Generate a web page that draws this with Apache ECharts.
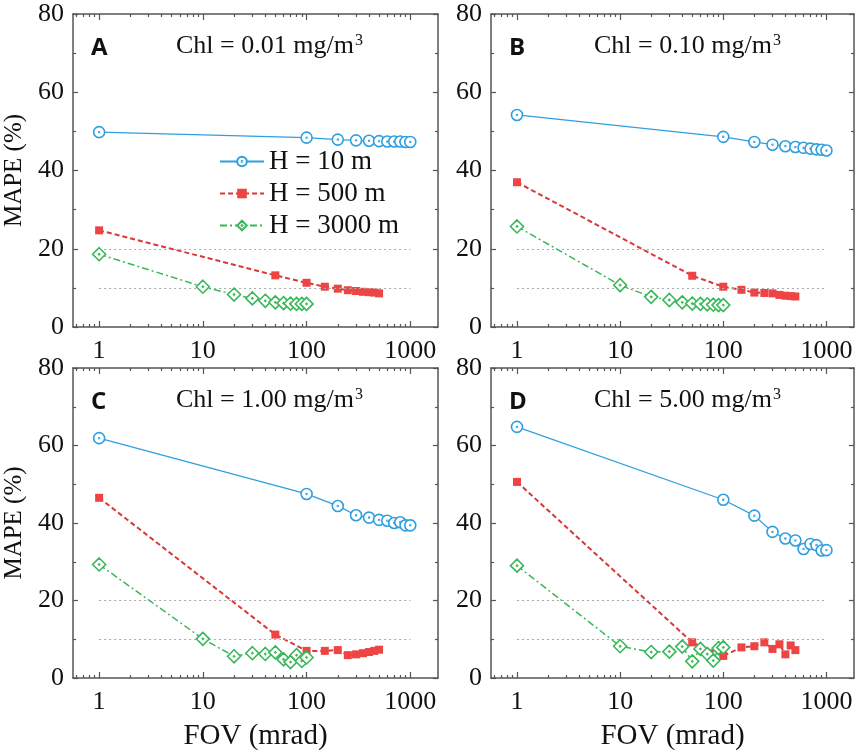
<!DOCTYPE html>
<html>
<head>
<meta charset="utf-8">
<script src="https://cdn.jsdelivr.net/npm/echarts@6/dist/echarts.min.js"></script>
<style>
  html, body { margin: 0; padding: 0; background: #fff; }
  #main { width: 860px; height: 752px; }
</style>
</head>
<body>
<div id="main"></div>
<script>
// FOV (mrad) sampled for each platform height
const fovH10 = [1, 100, 200, 300, 400, 500, 600, 700, 800, 900, 1000]
const fovH500 = [1, 50, 100, 150, 200, 250, 300, 350, 400, 450, 500]
const fovH3000 = [1, 10, 20, 30, 40, 50, 60, 70, 80, 90, 100]

// MAPE (%) per panel
const mapeA_H10 = [49.8, 48.4, 47.9, 47.7, 47.6, 47.5, 47.4, 47.4, 47.4, 47.3, 47.3]
const mapeA_H500 = [24.7, 13.2, 11.3, 10.3, 9.8, 9.4, 9.2, 9.0, 8.9, 8.8, 8.6]
const mapeA_H3000 = [18.6, 10.3, 8.3, 7.3, 6.7, 6.3, 6.1, 6.0, 5.9, 5.9, 5.9]

const mapeB_H10 = [54.2, 48.6, 47.3, 46.6, 46.2, 46.0, 45.8, 45.6, 45.4, 45.3, 45.1]
const mapeB_H500 = [37.0, 13.1, 10.3, 9.5, 8.8, 8.7, 8.6, 8.2, 8.0, 7.9, 7.8]
const mapeB_H3000 = [25.7, 10.7, 7.7, 6.9, 6.3, 6.0, 5.9, 5.8, 5.7, 5.6, 5.6]

const mapeC_H10 = [61.9, 47.5, 44.4, 42.0, 41.4, 40.8, 40.6, 40.0, 40.2, 39.4, 39.4]
const mapeC_H500 = [46.5, 11.2, 7.0, 7.0, 7.2, 5.9, 6.1, 6.4, 6.7, 7.0, 7.3]
const mapeC_H3000 = [29.3, 10.1, 5.6, 6.4, 6.2, 6.6, 4.8, 4.1, 5.9, 4.4, 5.3]

const mapeD_H10 = [64.8, 46.0, 41.9, 37.7, 36.0, 35.5, 33.3, 34.6, 34.3, 32.9, 33.0]
const mapeD_H500 = [50.6, 9.2, 5.7, 7.9, 8.2, 9.2, 7.5, 8.7, 6.1, 8.4, 7.2]
const mapeD_H3000 = [29.0, 8.2, 6.7, 6.8, 8.1, 4.3, 7.5, 6.2, 4.5, 7.7, 7.9]

const panelLetters = ['A', 'B', 'C', 'D']
const chlLabels = ['0.01', '0.10', '1.00', '5.00']
const seriesNames = ['H = 10 m', 'H = 500 m', 'H = 3000 m']
const xTickLabels = [1, 10, 100, 1000]
const refLevels = [10, 20]

const panels = [
  [mapeA_H10, mapeA_H500, mapeA_H3000],
  [mapeB_H10, mapeB_H500, mapeB_H3000],
  [mapeC_H10, mapeC_H500, mapeC_H3000],
  [mapeD_H10, mapeD_H500, mapeD_H3000]
]
const fovs = [fovH10, fovH500, fovH3000]

const SERIF = '"Liberation Serif", "Times New Roman", serif'
const AXIS = '#555'
const X_MIN = 0.56, X_MAX = 1850

// minor log ticks 2..9 of every decade
const minorTicks = []
;[0.1, 1, 10, 100, 1000].forEach(d => {
  for (let k = 2; k <= 9; k++) {
    const v = +(k * d).toPrecision(3)
    if (v > X_MIN && v < X_MAX && !xTickLabels.includes(v)) minorTicks.push(v)
  }
})

const grids = [
  {left: 73, top: 14, width: 365, height: 313},
  {left: 491, top: 14, width: 363, height: 313},
  {left: 73, top: 368, width: 365, height: 312},
  {left: 491, top: 368, width: 363, height: 312}
]

// ring with centre dot
const circleDot = 'path://M10 0A10 10 0 1 1 10 20A10 10 0 1 1 10 0ZM10 9.2A0.8 0.8 0 1 1 10 10.8A0.8 0.8 0 1 1 10 9.2Z'
const diamondDot = 'path://M10 0L20 10L10 20L0 10ZM10 9.2L10.8 10L10 10.8L9.2 10Z'

const styles = [
  {
    color: '#2f9fe0', symbol: circleDot, symbolSize: 11,
    itemStyle: {color: '#fff', borderColor: '#2f9fe0', borderWidth: 1.6},
    lineStyle: {color: '#2f9fe0', width: 1.3, type: 'solid'}
  },
  {
    color: '#ee4444', symbol: 'rect', symbolSize: 8,
    itemStyle: {color: '#ee4444'},
    lineStyle: {color: '#d93838', width: 2, type: [5, 3]}
  },
  {
    color: '#38b858', symbol: diamondDot, symbolSize: 13,
    itemStyle: {color: '#fff', borderColor: '#38b858', borderWidth: 1.6},
    lineStyle: {color: '#38b858', width: 1.5, type: [7, 3, 2, 3]}
  }
]

const xAxes = [], yAxes = [], series = [], graphics = []

grids.forEach((g, p) => {
  const bottomRow = p >= 2
  const mk = (position, ticks, len, main) => ({
    type: 'log', logBase: 10, gridIndex: p, position: position,
    min: X_MIN, max: X_MAX,
    axisLine: {show: main, lineStyle: {color: AXIS, width: 1.5}},
    axisTick: {show: true, inside: true, length: len, customValues: ticks, lineStyle: {color: AXIS, width: 1.2}},
    axisLabel: (position === 'bottom' && main) ? {
      show: true, customValues: xTickLabels, margin: 11,
      formatter: v => String(Math.round(v)),
      fontFamily: SERIF, fontSize: 26, color: '#111'
    } : {show: false},
    splitLine: {show: false},
    name: (position === 'bottom' && main && bottomRow) ? 'FOV (mrad)' : '',
    nameLocation: 'middle', nameGap: 44,
    nameTextStyle: {fontFamily: SERIF, fontSize: 29, color: '#111'}
  })
  xAxes.push(mk('bottom', xTickLabels, 6, true))
  xAxes.push(mk('bottom', minorTicks, 3, false))
  xAxes.push(mk('top', xTickLabels, 6, true))
  xAxes.push(mk('top', minorTicks, 3, false))

  const my = (position) => ({
    type: 'value', gridIndex: p, position: position,
    min: 0, max: 80, interval: 20,
    axisLine: {show: true, lineStyle: {color: AXIS, width: 1.5}},
    axisTick: {show: true, inside: true, length: 5, lineStyle: {color: AXIS, width: 1.2}},
    minorTick: {show: true, splitNumber: 2, length: 3, lineStyle: {color: AXIS, width: 1.2}},
    splitLine: {show: false},
    axisLabel: position === 'left' ? {show: true, margin: 9, fontFamily: SERIF, fontSize: 26, color: '#111'} : {show: false},
    name: (position === 'left' && p % 2 === 0) ? 'MAPE (%)' : '',
    nameLocation: 'middle', nameGap: 46,
    nameTextStyle: {fontFamily: SERIF, fontSize: 25, color: '#111'}
  })
  yAxes.push(my('left'))
  yAxes.push(my('right'))

  panels[p].forEach((vals, s) => {
    const st = styles[s]
    const item = {
      type: 'line', name: seriesNames[s],
      xAxisIndex: p * 4, yAxisIndex: p * 2,
      data: fovs[s].map((f, i) => [f, vals[i]]),
      symbol: st.symbol, symbolSize: st.symbolSize,
      color: st.color,
      itemStyle: st.itemStyle, lineStyle: st.lineStyle,
      showSymbol: true, animation: false, z: 3 + s
    }
    if (s === 0) {
      item.markLine = {
        silent: true, symbol: 'none', label: {show: false},
        lineStyle: {color: '#aaa', type: [2, 3], width: 1},
        data: refLevels.map(v => [
          {coord: [xTickLabels[0], v]},
          {coord: [xTickLabels[xTickLabels.length - 1], v]}
        ])
      }
    }
    series.push(item)
  })

  graphics.push({
    type: 'text', left: g.left + 18, top: g.top + 22,
    style: {text: panelLetters[p], font: 'bold 24px "Open Sans", "DejaVu Sans", sans-serif', fill: '#111'}
  })
  graphics.push({
    type: 'text', left: g.left + 103, top: g.top + 19,
    style: {
      text: '{t|Chl = ' + chlLabels[p] + ' mg/m}{s|3}',
      rich: {
        t: {fontFamily: SERIF, fontSize: 26, fill: '#111', color: '#111'},
        s: {fontFamily: SERIF, fontSize: 16, fill: '#111', color: '#111', verticalAlign: 'top', padding: [0, 0, 10, 1]}
      }
    }
  })
})

const chart = echarts.init(document.getElementById('main'), null, {renderer: 'canvas'})
chart.setOption({
  backgroundColor: '#fff',
  animation: false,
  grid: grids.map(g => Object.assign({containLabel: false}, g)),
  xAxis: xAxes,
  yAxis: yAxes,
  legend: {
    data: seriesNames, orient: 'vertical',
    left: 214, top: 143, itemWidth: 44, itemHeight: 12, itemGap: 5,
    textStyle: {fontFamily: SERIF, fontSize: 27, color: '#111'}
  },
  graphic: graphics,
  series: series
})
</script>
</body>
</html>
